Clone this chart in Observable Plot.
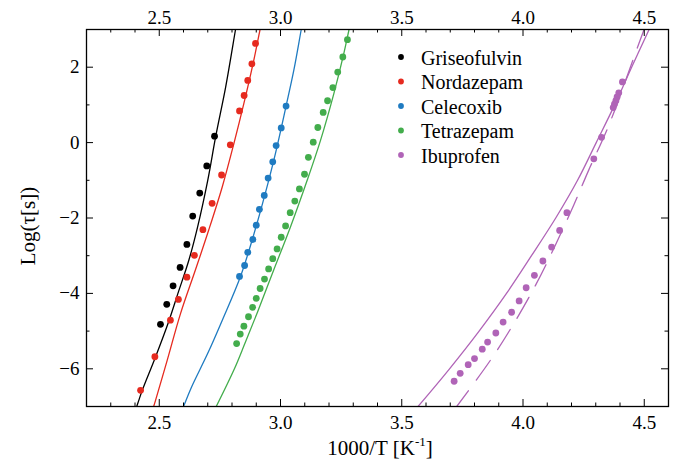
<!DOCTYPE html>
<html><head><meta charset="utf-8">
<script src="https://cdn.jsdelivr.net/npm/d3@7"></script>
<script src="https://cdn.jsdelivr.net/npm/@observablehq/plot@0.6"></script>
<style>
body{margin:0;background:#fff}
#chart svg text, #chart svg tspan{font-family:'Liberation Serif','Times New Roman',Times,serif !important;}
</style>
</head><body><div id="chart"></div>
<script>
const compounds = ["Griseofulvin","Nordazepam","Celecoxib","Tetrazepam","Ibuprofen"];
const colors = ["#000000","#e62a1f","#1f7bc1","#43ad4c","#b064b7"];

// measured points (x = 1000/T, y = log tau)
const griseoX = [2.728,2.696,2.667,2.638,2.614,2.586,2.557,2.531,2.505];
const griseoY = [0.17,-0.62,-1.34,-1.95,-2.70,-3.31,-3.80,-4.29,-4.82];
const nordaX = [2.897,2.882,2.865,2.850,2.831,2.793,2.757,2.718,2.680,2.645,2.614,2.579,2.546,2.482,2.423];
const nordaY = [2.63,2.09,1.65,1.25,0.84,-0.06,-0.86,-1.61,-2.31,-2.99,-3.57,-4.16,-4.71,-5.68,-6.57];
const celeX = [3.023,3.003,2.982,2.968,2.949,2.933,2.913,2.900,2.886,2.865,2.852,2.831];
const celeY = [0.97,0.39,-0.08,-0.51,-0.94,-1.40,-1.77,-2.19,-2.57,-2.91,-3.26,-3.55];
const tetraX = [3.276,3.257,3.236,3.216,3.194,3.176,3.154,3.135,3.115,3.099,3.078,3.059,3.040,3.021,3.003,2.986,2.968,2.951,2.934,2.916,2.900,2.885,2.868,2.849,2.834,2.819];
const tetraY = [2.73,2.27,1.87,1.46,1.11,0.80,0.40,0.01,-0.39,-0.84,-1.23,-1.55,-1.86,-2.21,-2.51,-2.82,-3.08,-3.35,-3.62,-3.87,-4.13,-4.37,-4.62,-4.87,-5.08,-5.33];
const ibuX = [4.410,4.395,4.388,4.383,4.377,4.372,4.324,4.292,4.181,4.151,4.118,4.082,4.047,4.013,3.984,3.953,3.918,3.888,3.854,3.832,3.800,3.774,3.741,3.716];
const ibuY = [1.61,1.32,1.21,1.11,1.02,0.93,0.14,-0.43,-1.86,-2.33,-2.77,-3.14,-3.52,-3.85,-4.20,-4.50,-4.76,-5.05,-5.29,-5.48,-5.73,-5.89,-6.12,-6.33];

// fitted curves
const griseoFitX = [2.828,2.814,2.774,2.733,2.700,2.658,2.622,2.577,2.535,2.485,2.430,2.416,2.402];
const griseoFitY = [3.51,2.98,1.48,0.17,-1.00,-2.24,-3.12,-4.00,-4.82,-5.68,-6.57,-6.83,-7.10];
const nordaFitX = [2.931,2.915,2.890,2.849,2.808,2.760,2.704,2.649,2.588,2.533,2.485,2.472];
const nordaFitY = [3.51,2.98,2.19,1.04,-0.02,-1.17,-2.32,-3.38,-4.53,-5.77,-6.83,-7.10];
const celeFitX = [3.100,3.085,3.055,3.023,2.979,2.935,2.887,2.835,2.760,2.700,2.632,2.600,2.593];
const celeFitY = [3.51,2.98,1.92,0.97,-0.29,-1.40,-2.50,-3.55,-4.71,-5.59,-6.50,-7.00,-7.10];
const tetraFitX = [3.300,3.282,3.261,3.220,3.165,3.110,3.041,2.972,2.905,2.853,2.810,2.735,2.727];
const tetraFitY = [3.51,2.98,2.36,1.30,0.06,-1.00,-2.24,-3.38,-4.50,-5.33,-6.00,-7.00,-7.10];
const ibuFitX = [4.541,4.520,4.448,4.378,4.302,4.225,4.135,4.035,3.932,3.819,3.697,3.567,3.540];
const ibuFitY = [3.30,3.00,2.00,1.00,0.00,-1.00,-2.00,-3.00,-4.00,-5.00,-6.00,-7.00,-7.20];
const ibuDashX = [4.505,4.478,4.354,4.271,4.209,4.127,4.052,3.962,3.866,3.729,3.710];
const ibuDashY = [3.10,2.63,0.46,-0.73,-1.66,-2.81,-3.78,-4.80,-5.77,-6.98,-7.15];

const xMajor = [2.5,3.0,3.5,4.0,4.5];
const xMajorLabels = ["2.5","3.0","3.5","4.0","4.5"];
const xMinor = [2.3,2.4,2.6,2.7,2.8,2.9,3.1,3.2,3.3,3.4,3.6,3.7,3.8,3.9,4.1,4.2,4.3,4.4];
const yMajor = [-6,-4,-2,0,2];
const yMajorLabels = ["\u22126","\u22124","\u22122","0","2"];
const yMinor = [-5,-3,-1,1];

const ptsX = [griseoX,nordaX,celeX,tetraX,ibuX];
const ptsY = [griseoY,nordaY,celeY,tetraY,ibuY];
const fitX = [griseoFitX,nordaFitX,celeFitX,tetraFitX,ibuFitX];
const fitY = [griseoFitY,nordaFitY,celeFitY,tetraFitY,ibuFitY];

const points = compounds.flatMap((name,i)=>ptsX[i].map((x,j)=>({name,x,y:ptsY[i][j]})));
const fits = compounds.flatMap((name,i)=>fitX[i].map((x,j)=>({name,x,y:fitY[i][j]})));
const dashed = ibuDashX.map((x,j)=>({name:"Ibuprofen",x,y:ibuDashY[j]}));

const W=686,H=463,mL=86,mR=18,mT=29,mB=57;
const iW=W-mL-mR, iH=H-mT-mB;
const major=7, minor=3.5;
const serif="'Liberation Serif','Times New Roman',Times,serif";

const chart = Plot.plot({
  width:W, height:H, marginLeft:mL, marginRight:mR, marginTop:mT, marginBottom:mB,
  x:{domain:[2.2,4.6]}, y:{domain:[-7,3]},
  color:{domain:compounds, range:colors},
  style:{fontFamily:serif, fontSize:"19px", color:"black", background:"white"},
  marks:[
    Plot.line(fits,{x:"x",y:"y",z:"name",stroke:"name",curve:"catmull-rom",strokeWidth:1.3,clip:true}),
    Plot.line(dashed,{x:"x",y:"y",stroke:"name",curve:"catmull-rom",strokeWidth:1.3,strokeDasharray:"24,13",clip:true}),
    Plot.dot(points,{x:"x",y:"y",fill:"name",r:3.4}),
    // inward ticks
    Plot.tickX(xMajor,{x:d=>d,insetTop:iH-major,stroke:"black",strokeWidth:1}),
    Plot.tickX(xMajor,{x:d=>d,insetBottom:iH-major,stroke:"black",strokeWidth:1}),
    Plot.tickX(xMinor,{x:d=>d,insetTop:iH-minor,stroke:"black",strokeWidth:1}),
    Plot.tickX(xMinor,{x:d=>d,insetBottom:iH-minor,stroke:"black",strokeWidth:1}),
    Plot.tickY(yMajor,{y:d=>d,insetRight:iW-major,stroke:"black",strokeWidth:1}),
    Plot.tickY(yMajor,{y:d=>d,insetLeft:iW-major,stroke:"black",strokeWidth:1}),
    Plot.tickY(yMinor,{y:d=>d,insetRight:iW-minor,stroke:"black",strokeWidth:1}),
    Plot.tickY(yMinor,{y:d=>d,insetLeft:iW-minor,stroke:"black",strokeWidth:1}),
    Plot.axisX(xMajor,{anchor:"bottom",tickSize:0,tickPadding:9,label:null,tickFormat:(d,i)=>xMajorLabels[i]}),
    Plot.axisX(xMajor,{anchor:"top",tickSize:0,tickPadding:6,label:null,tickFormat:(d,i)=>xMajorLabels[i]}),
    Plot.axisY(yMajor,{anchor:"left",tickSize:0,tickPadding:7,label:null,tickFormat:(d,i)=>yMajorLabels[i]}),
    Plot.frame({stroke:"black",strokeWidth:1.3})
  ]
});
document.getElementById("chart").appendChild(chart);

const svg = d3.select(chart);
// axis titles
const xt = svg.append("text").attr("x",380).attr("y",455).attr("text-anchor","middle")
  .attr("font-family",serif).attr("font-size",21).attr("fill","black");
xt.append("tspan").text("1000/T [K");
xt.append("tspan").attr("font-size",13).attr("dy",-9).text("-1");
xt.append("tspan").attr("dy",9).text("]");
svg.append("text").attr("transform","translate(35,226) rotate(-90)").attr("text-anchor","middle")
  .attr("font-family",serif).attr("font-size",21).attr("fill","black").text("Log(\u03c4[s])");
// legend
const lg = svg.append("g").attr("text-anchor","start");
compounds.forEach((name,i)=>{
  const cy = 57 + i*24.5;
  lg.append("circle").attr("cx",401).attr("cy",cy).attr("r",2.9).attr("fill",colors[i]);
  lg.append("text").attr("x",421).attr("y",cy+7.6).attr("text-anchor","start").attr("font-family",serif).attr("font-size",20).attr("fill","black").text(name);
});
</script></body></html>
